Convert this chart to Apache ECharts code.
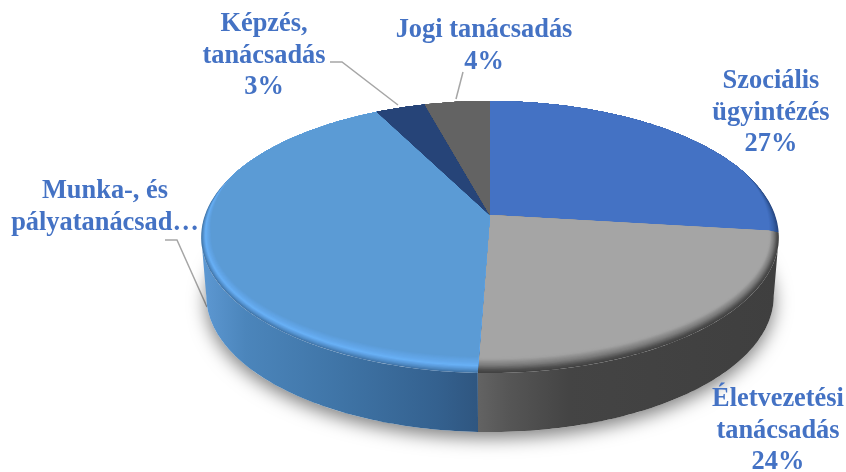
<!DOCTYPE html>
<html><head><meta charset="utf-8">
<style>html,body{margin:0;padding:0;background:#fff}#c{width:846px;height:472px}</style>
<script src="https://cdn.jsdelivr.net/npm/echarts@6/dist/echarts.min.js"></script>
</head><body><div id="c"></div>
<script>
const categories = ['Szociális\nügyintézés','Életvezetési\ntanácsadás','Munka-, és\npályatanácsad…','Képzés,\ntanácsadás','Jogi tanácsadás'];
const values = [27.07,23.5,41.93,3.25,4.25];

// Projection of the tilted disc
const CX=490, APEX=215, TILT_A=97.66, TILT_C=-0.1618, KX=285, DEPTH=59, SHRINK=5, INX=10, INY=16;
const rad=d=>d*Math.PI/180;
const TAN=Math.acos(TILT_C)*180/Math.PI; // silhouette angle
function rim(phi,t){
  const s=Math.sin(rad(phi)),c=Math.cos(rad(phi)),v=-c,den=1+TILT_C*v;
  const w=Math.max(0,Math.min(1,(0.35-c)/0.5))*(t||0);
  const x=CX+KX*s/den-w*INX*s;
  const y=(TILT_A*v+APEX)/den+w*(c<0?INY*c:0);
  return [x,y];
}
function low(phi){
  const s=Math.sin(rad(phi)),c=Math.cos(rad(phi)),v=-c,den=1+TILT_C*v;
  return [CX+(KX-SHRINK)*s/den,(TILT_A*v+APEX)/den+DEPTH];
}
function arc(fn,a,b,t){const n=Math.max(2,Math.ceil(Math.abs(b-a)));const o=[];for(let i=0;i<=n;i++)o.push(fn(a+(b-a)*i/n,t));return o;}
const total=values.reduce((a,b)=>a+b,0);
function span(i){let s=0;for(let k=0;k<i;k++)s+=values[k];return [s/total*360,(s+values[i])/total*360];}

const wallFill=[
 null,
 ()=>new echarts.graphic.LinearGradient(478,0,779,0,[{offset:0,color:'#636363'},{offset:.1,color:'#565656'},{offset:.3,color:'#444444'},{offset:1,color:'#3f3f3f'}],true),
 ()=>new echarts.graphic.LinearGradient(205,0,478,0,[{offset:0,color:'#5c97d1'},{offset:.15,color:'#4b85bb'},{offset:.5,color:'#3f74a6'},{offset:.85,color:'#34618f'},{offset:1,color:'#2f5680'}],true),
 null,null];
const ramps=[
 [[0,[38,70,128]],[.5,[56,98,170]],[1,[68,114,196]]],
 [[0,[66,66,66]],[.15,[78,78,78]],[.45,[122,122,122]],[.85,[162,162,162]],[1,[165,165,165]]],
 [[0,[66,118,170]],[.18,[84,146,206]],[.42,[104,176,246]],[.65,[98,166,232]],[1,[91,155,213]]],
 [[0,[38,68,120]],[1,[38,68,120]]],
 [[0,[99,99,99]],[1,[99,99,99]]]
];
function rampColor(r,t){
  for(let i=1;i<r.length;i++){if(t<=r[i][0]){const a=r[i-1],b=r[i],f=(t-a[0])/(b[0]-a[0]);
    return 'rgb('+a[1].map((v,j)=>Math.round(v+(b[1][j]-v)*f)).join(',')+')';}}
  const l=r[r.length-1][1];return 'rgb('+l.join(',')+')';
}
function renderWall(params){
  const i=params.dataIndex,ch=[];
  if(i===0){
    const pts=arc(low,0,360);
    ch.push({type:'polygon',shape:{points:pts},style:{fill:'#fff',shadowBlur:18,shadowColor:'rgba(0,0,0,0.5)',shadowOffsetY:6}});
  }
  const [a0,b0]=span(i);
  const a=Math.max(a0,TAN),b=Math.min(b0,360-TAN);
  if(b>a&&wallFill[i]){
    const pts=arc(rim,a,b).concat(arc(low,b,a));
    ch.push({type:'polygon',shape:{points:pts},style:{fill:wallFill[i](),stroke:null}});
  }
  return {type:'group',children:ch};
}
function renderTop(params){
  const i=params.dataIndex,[a,b]=span(i),ch=[],N=14;
  for(let k=0;k<=N;k++){
    const t=k/N;
    const pts=[[CX,APEX]].concat(arc(rim,a,b,t));
    ch.push({type:'polygon',shape:{points:pts},style:{fill:rampColor(ramps[i],t),stroke:null}});
  }
  return {type:'group',children:ch};
}
function pct(i){return Math.round(values[i]/total*100)+'%';}
const labelTexts=categories.map((c,i)=>c.endsWith('…')?c:c+'\n'+pct(i));
const labelAt=[[771,113],[778,431],[105,207],[264,56],[484,46]];
const leaders=[null,null,[[165,240],[177,240],[207,307]],[[330,62],[342,62],[398,105]],[[463,72],[456,99]]];
const graphics=[];
labelTexts.forEach((t,i)=>{
  graphics.push({type:'text',x:labelAt[i][0],y:labelAt[i][1],z:10,style:{text:t,fill:'#4472c4',font:'bold 26.4px "Liberation Serif"',lineHeight:31.5,align:'center',verticalAlign:'middle'}});
  if(leaders[i])graphics.push({type:'polyline',z:1,shape:{points:leaders[i]},style:{stroke:'#a6a6a6',lineWidth:1.5,fill:null}});
});
const chart=echarts.init(document.getElementById('c'),null,{renderer:'canvas'});
chart.setOption({
  animation:false,backgroundColor:'#fff',
  graphic:graphics,
  series:[
    {type:'custom',name:'oldal',coordinateSystem:'none',renderItem:renderWall,data:values,silent:true,z:2},
    {type:'custom',name:'lap',coordinateSystem:'none',renderItem:renderTop,data:values,silent:true,z:3}
  ]
});
</script></body></html>
